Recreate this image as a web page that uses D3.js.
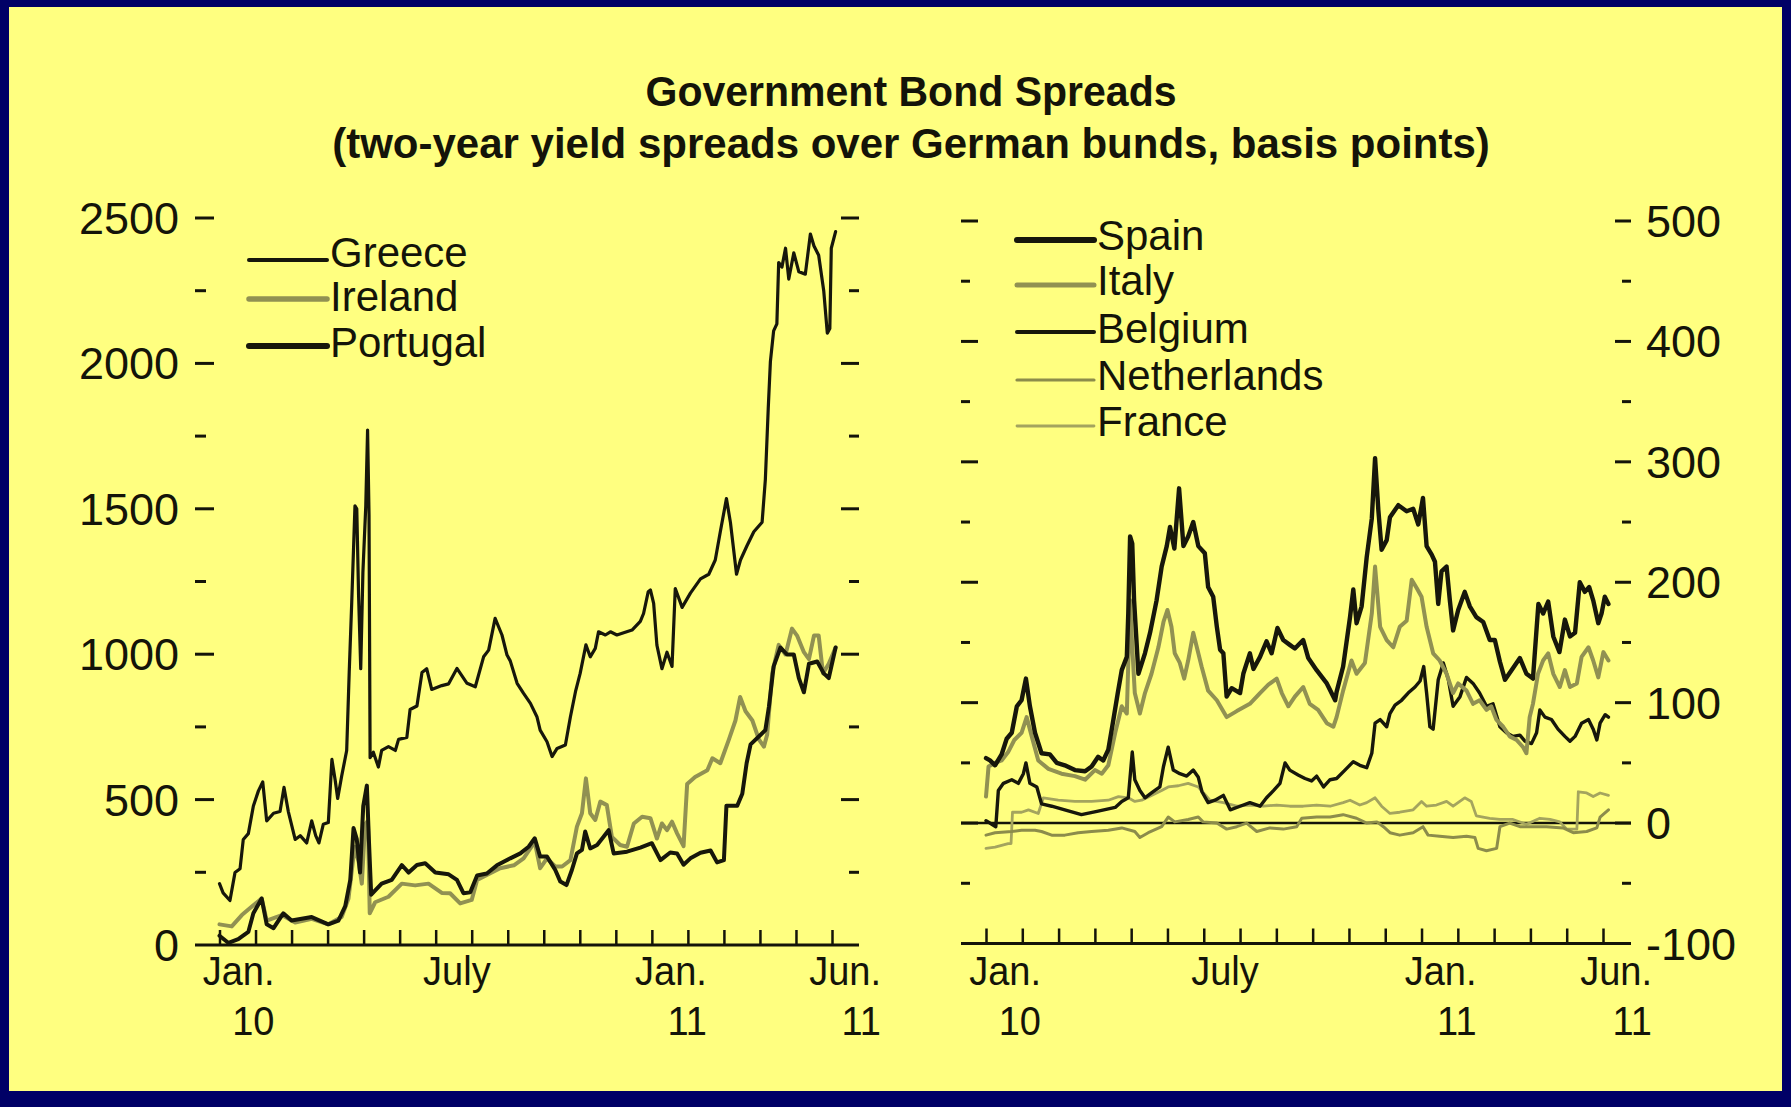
<!DOCTYPE html>
<html>
<head>
<meta charset="utf-8">
<script src="https://cdn.jsdelivr.net/npm/d3@7"></script>
<style>
html,body{margin:0;padding:0;overflow:hidden;background:#000066;}
svg{display:block;}
</style>
</head>
<body>
<svg id="chart" width="1791" height="1107"></svg>
<script>
// ---------------- DATA ----------------
// x values are months since 1 Jan 2010 (0 = Jan. 10, 17 = Jun. 11)
const titleText = "Government Bond Spreads";
const subtitleText = "(two-year yield spreads over German bunds, basis points)";

const monthTickValues = [0,1,2,3,4,5,6,7,8,9,10,11,12,13,14,15,16,17];
const monthLabels = [
  {m:0,  top:"Jan.", bottom:"10"},
  {m:6,  top:"July", bottom:""},
  {m:12, top:"Jan.", bottom:"11"},
  {m:17, top:"Jun.", bottom:"11"}
];
const leftTickValues  = [250,500,750,1000,1250,1500,1750,2000,2250,2500];
const leftTickLabels  = [0,500,1000,1500,2000,2500];
const rightTickValues = [-50,0,50,100,150,200,250,300,350,400,450,500];
const rightTickLabels = [-100,0,100,200,300,400,500];

const leftNames  = ["Greece","Ireland","Portugal"];
const rightNames = ["Spain","Italy","Belgium","Netherlands","France"];

const greece = [[0,211],[0.1,179],[0.29,153],[0.43,249],[0.57,262],[0.66,363],[0.8,383],[0.94,478],[1.08,530],[1.2,561],[1.31,427],[1.5,453],[1.68,459],[1.79,542],[1.91,459],[2.1,363],[2.24,376],[2.42,351],[2.56,427],[2.67,376],[2.76,351],[2.88,415],[3.02,421],[3.12,638],[3.21,567],[3.28,504],[3.39,580],[3.53,669],[3.6,937],[3.67,1178],[3.76,1510],[3.81,1500],[3.86,1204],[3.92,950],[3.98,1281],[4.06,1510],[4.11,1771],[4.15,1480],[4.18,644],[4.27,663],[4.41,612],[4.5,669],[4.69,682],[4.88,669],[4.97,707],[5.2,714],[5.29,810],[5.48,822],[5.62,937],[5.75,950],[5.89,879],[6.17,892],[6.36,898],[6.59,951],[6.87,900],[7.1,888],[7.33,991],[7.47,1014],[7.65,1123],[7.84,1066],[7.98,997],[8.07,977],[8.26,900],[8.44,865],[8.63,831],[8.81,785],[8.9,739],[9.09,699],[9.23,648],[9.37,676],[9.6,688],[9.74,785],[9.88,871],[10.01,934],[10.17,1032],[10.29,991],[10.43,1020],[10.52,1077],[10.71,1066],[10.85,1077],[11.03,1066],[11.45,1083],[11.68,1113],[11.77,1140],[11.9,1215],[11.96,1221],[12.05,1175],[12.14,1031],[12.28,950],[12.42,1007],[12.56,958],[12.65,1226],[12.84,1161],[13.07,1210],[13.35,1259],[13.58,1275],[13.76,1324],[13.9,1421],[14.07,1535],[14.18,1454],[14.35,1275],[14.46,1324],[14.64,1373],[14.83,1421],[15.06,1454],[15.15,1600],[15.23,1844],[15.29,2006],[15.38,2112],[15.47,2136],[15.52,2347],[15.61,2331],[15.71,2396],[15.8,2290],[15.94,2380],[16.08,2315],[16.26,2307],[16.4,2445],[16.5,2404],[16.63,2372],[16.77,2250],[16.87,2104],[16.94,2120],[16.98,2396],[17.1,2453]];

const ireland = [[0,71],[0.34,64],[0.62,103],[0.8,122],[1.17,160],[1.31,84],[1.73,103],[2.1,77],[2.56,90],[3.02,71],[3.39,96],[3.58,160],[3.75,338],[3.86,287],[3.95,211],[4.04,415],[4.12,427],[4.17,109],[4.32,147],[4.69,166],[5.06,211],[5.43,205],[5.8,211],[6.17,179],[6.4,178],[6.68,143],[7.0,155],[7.15,224],[7.42,241],[7.79,264],[8.17,274],[8.44,298],[8.75,355],[8.9,264],[9.09,298],[9.32,270],[9.51,270],[9.74,292],[9.92,407],[10.06,453],[10.17,573],[10.29,453],[10.43,430],[10.57,493],[10.75,481],[10.89,372],[11.12,344],[11.31,338],[11.5,418],[11.73,441],[11.96,436],[12.14,366],[12.28,418],[12.42,395],[12.56,424],[12.7,384],[12.88,340],[12.98,554],[13.2,578],[13.54,601],[13.68,642],[13.9,625],[14.14,707],[14.32,772],[14.45,853],[14.6,804],[14.79,772],[14.97,707],[15.11,682],[15.2,723],[15.34,934],[15.52,1032],[15.71,999],[15.89,1088],[16.03,1064],[16.22,1007],[16.36,983],[16.5,1064],[16.63,1064],[16.75,934],[16.91,967],[17.1,1023]];

const portugal = [[0,32],[0.25,7],[0.52,20],[0.8,45],[0.94,109],[1.17,160],[1.31,71],[1.5,58],[1.77,109],[2.0,84],[2.56,96],[3.02,71],[3.3,84],[3.49,134],[3.63,224],[3.72,402],[3.81,364],[3.9,249],[3.99,478],[4.09,548],[4.15,351],[4.21,173],[4.5,211],[4.78,224],[5.06,275],[5.25,249],[5.48,275],[5.71,281],[5.99,249],[6.36,243],[6.59,224],[6.77,178],[6.96,181],[7.15,239],[7.42,246],[7.7,274],[8.07,298],[8.35,315],[8.58,338],[8.75,367],[8.9,304],[9.09,304],[9.32,258],[9.46,218],[9.63,206],[9.78,258],[9.92,315],[10.06,327],[10.15,390],[10.29,332],[10.48,344],[10.66,372],[10.8,395],[10.94,315],[11.31,321],[11.68,335],[12.0,350],[12.24,292],[12.51,318],[12.7,315],[12.88,276],[13.07,298],[13.35,317],[13.63,325],[13.81,284],[14.0,292],[14.07,479],[14.37,479],[14.51,520],[14.63,625],[14.74,690],[15.02,723],[15.15,739],[15.25,820],[15.38,958],[15.57,1023],[15.75,999],[15.94,999],[16.08,918],[16.22,869],[16.36,967],[16.59,975],[16.77,934],[16.91,918],[17.1,1023]];

const spain = [[0,54],[0.11,52],[0.25,48],[0.43,57],[0.57,70],[0.71,75],[0.85,97],[0.98,102],[1.1,120],[1.21,97],[1.35,75],[1.53,58],[1.76,57],[1.95,50],[2.17,48],[2.45,44],[2.73,43],[2.91,47],[3.09,55],[3.23,52],[3.37,61],[3.51,86],[3.63,108],[3.74,127],[3.88,138],[3.92,174],[3.97,238],[4.03,232],[4.08,185],[4.2,124],[4.38,141],[4.52,158],[4.7,185],[4.84,213],[4.98,230],[5.07,246],[5.19,228],[5.32,278],[5.44,230],[5.57,238],[5.71,250],[5.85,230],[6.03,224],[6.12,196],[6.26,188],[6.36,163],[6.45,144],[6.54,141],[6.63,105],[6.77,112],[7.0,108],[7.09,124],[7.27,141],[7.37,128],[7.55,138],[7.73,151],[7.87,141],[8.03,162],[8.19,152],[8.37,148],[8.51,145],[8.74,152],[8.88,137],[9.11,127],[9.39,116],[9.62,102],[9.66,109],[9.84,130],[10.03,171],[10.12,194],[10.21,166],[10.35,180],[10.49,221],[10.63,253],[10.72,303],[10.81,260],[10.9,227],[11.04,235],[11.13,254],[11.36,264],[11.59,259],[11.77,261],[11.91,248],[12.04,270],[12.14,230],[12.28,223],[12.37,217],[12.46,182],[12.55,209],[12.69,213],[12.78,185],[12.87,160],[13.01,177],[13.19,192],[13.33,180],[13.51,171],[13.7,167],[13.88,152],[14.02,152],[14.16,134],[14.3,119],[14.48,127],[14.71,137],[14.89,124],[15.07,120],[15.22,182],[15.35,174],[15.49,184],[15.63,155],[15.8,142],[15.95,169],[16.09,155],[16.23,158],[16.36,200],[16.5,192],[16.62,196],[16.73,185],[16.87,166],[16.96,174],[17.05,188],[17.15,182]];

const italy = [[0,22],[0.07,47],[0.25,50],[0.43,52],[0.61,59],[0.78,69],[0.98,75],[1.12,88],[1.26,72],[1.44,52],[1.72,45],[2.08,41],[2.45,39],[2.73,36],[3.0,44],[3.19,41],[3.37,48],[3.56,75],[3.74,97],[3.88,91],[3.97,185],[4.03,146],[4.1,108],[4.24,91],[4.38,108],[4.56,124],[4.75,146],[4.89,167],[5.0,177],[5.11,163],[5.2,141],[5.34,133],[5.46,120],[5.57,135],[5.71,158],[5.85,141],[5.94,130],[6.12,110],[6.36,102],[6.63,88],[6.91,93],[7.27,99],[7.55,108],[7.78,115],[8.01,120],[8.15,108],[8.33,97],[8.51,105],[8.74,113],[8.92,99],[9.15,94],[9.39,83],[9.57,80],[9.66,88],[9.84,110],[10.07,135],[10.21,124],[10.44,133],[10.63,174],[10.72,213],[10.86,163],[11.04,152],[11.22,146],[11.4,163],[11.59,168],[11.73,202],[11.87,195],[12.0,188],[12.14,163],[12.32,141],[12.5,135],[12.69,124],[12.87,108],[13.01,116],[13.24,110],[13.42,99],[13.6,102],[13.79,94],[13.92,97],[14.06,86],[14.25,80],[14.43,72],[14.62,69],[14.8,63],[14.89,58],[14.98,88],[15.07,99],[15.21,124],[15.35,135],[15.49,141],[15.63,124],[15.81,113],[15.95,127],[16.09,113],[16.28,116],[16.41,138],[16.6,146],[16.73,135],[16.87,121],[17.01,142],[17.15,135]];

const belgium = [[0,2],[0.16,-1],[0.27,-3],[0.34,27],[0.48,33],[0.71,36],[0.89,33],[1.03,41],[1.1,50],[1.21,33],[1.4,30],[1.53,16],[1.81,14],[2.17,11],[2.63,7],[3.09,10],[3.56,13],[3.74,18],[3.92,21],[4.03,59],[4.1,36],[4.24,27],[4.38,21],[4.56,25],[4.79,30],[4.89,47],[5.02,63],[5.16,44],[5.34,41],[5.53,39],[5.71,44],[5.85,38],[5.95,26],[6.12,17],[6.31,19],[6.54,23],[6.73,11],[7.0,14],[7.27,17],[7.55,14],[7.73,21],[7.92,27],[8.1,33],[8.24,50],[8.37,44],[8.6,40],[8.79,37],[8.97,35],[9.11,39],[9.3,30],[9.48,36],[9.66,37],[9.89,44],[10.12,51],[10.3,48],[10.49,46],[10.63,58],[10.72,83],[10.86,86],[11.04,80],[11.13,91],[11.27,98],[11.45,102],[11.63,108],[11.82,113],[11.96,118],[12.06,130],[12.14,108],[12.23,80],[12.32,78],[12.46,119],[12.6,133],[12.74,119],[12.87,97],[13.06,105],[13.24,121],[13.42,116],[13.6,108],[13.79,97],[13.97,99],[14.16,80],[14.34,75],[14.52,72],[14.71,73],[14.85,68],[15.03,66],[15.17,75],[15.26,94],[15.4,88],[15.58,86],[15.76,78],[15.95,72],[16.09,68],[16.23,72],[16.41,83],[16.6,86],[16.73,78],[16.83,69],[16.92,83],[17.06,90],[17.15,88]];

const netherlands = [[0,-10],[0.25,-8],[0.71,-7],[0.98,-6],[1.35,-6],[1.53,-7],[1.81,-10],[2.17,-10],[2.54,-8],[2.91,-7],[3.37,-6],[3.74,-4],[4.1,-7],[4.24,-12],[4.47,-8],[4.84,-3],[5.02,5],[5.2,1],[5.57,3],[5.85,5],[5.98,1],[6.36,0],[6.63,-5],[6.91,-3],[7.18,0],[7.46,-7],[7.82,-4],[8.19,-5],[8.56,-3],[8.7,4],[9.11,5],[9.48,5],[9.84,7],[10.21,4],[10.49,0],[10.77,1],[10.95,-3],[11.13,-8],[11.4,-10],[11.77,-8],[12.04,-3],[12.18,-10],[12.5,-11],[12.87,-12],[13.24,-11],[13.47,-12],[13.56,-21],[13.79,-23],[14.07,-21],[14.16,-3],[14.43,0],[14.71,-3],[15.07,-3],[15.44,-3],[15.9,-4],[16.18,-8],[16.55,-7],[16.83,-4],[16.92,5],[17.15,11]];

const france = [[0,-21],[0.25,-20],[0.61,-17],[0.69,-17],[0.73,9],[0.98,9],[1.17,11],[1.44,8],[1.58,21],[1.99,19],[2.45,18],[2.91,18],[3.37,19],[3.65,22],[3.92,21],[4.1,18],[4.29,19],[4.56,23],[4.84,27],[5.02,30],[5.3,31],[5.57,33],[5.85,30],[6.17,19],[6.54,17],[6.91,14],[7.27,15],[7.64,14],[8.01,15],[8.37,14],[8.74,14],[9.11,15],[9.48,14],[9.84,17],[10.03,19],[10.3,15],[10.49,17],[10.72,21],[10.9,14],[11.13,8],[11.4,9],[11.77,11],[12.0,18],[12.14,14],[12.41,15],[12.69,18],[12.87,14],[13.19,21],[13.37,18],[13.51,6],[13.88,4],[14.16,3],[14.52,3],[14.89,-1],[15.26,4],[15.54,3],[15.81,1],[16.0,-5],[16.18,-5],[16.28,-5],[16.32,26],[16.55,25],[16.73,22],[16.92,25],[17.15,23]];

// ---------------- STYLE / LAYOUT ----------------
const FONT = "'Liberation Sans', Arial, Helvetica, sans-serif";
const INK = "#141409";
const BLACK = "#17170b";
const OLIVE = "#919152";
const OLIVE2 = "#8c8c4b";
const OLIVE3 = "#a4a45e";

const leftStyle = {
  Greece:   {data: greece,   color: BLACK, w: 3.2, lw: 4},
  Ireland:  {data: ireland,  color: OLIVE, w: 4.0, lw: 5.5},
  Portugal: {data: portugal, color: BLACK, w: 4.0, lw: 6}
};
const rightStyle = {
  Spain:       {data: spain,       color: BLACK,  w: 4.4, lw: 6},
  Italy:       {data: italy,       color: OLIVE,  w: 4.0, lw: 5},
  Belgium:     {data: belgium,     color: BLACK,  w: 3.4, lw: 4},
  Netherlands: {data: netherlands, color: OLIVE2, w: 3.0, lw: 3.2},
  France:      {data: france,      color: OLIVE3, w: 2.8, lw: 2.8}
};

const svg = d3.select("#chart");
svg.append("rect").attr("x",0).attr("y",0).attr("width",1791).attr("height",1107).attr("fill","#000066");
svg.append("rect").attr("x",9).attr("y",7).attr("width",1773).attr("height",1084).attr("fill","#ffff80");

// Titles
svg.append("text").attr("transform","translate(911,106) scale(0.977,1)")
  .attr("text-anchor","middle").attr("font-family",FONT).attr("font-weight","bold")
  .attr("font-size",42).attr("fill",INK).text(titleText);
svg.append("text").attr("transform","translate(911,158)")
  .attr("text-anchor","middle").attr("font-family",FONT).attr("font-weight","bold")
  .attr("font-size",42).attr("fill",INK).text(subtitleText);

// Scales
const xL = d3.scaleLinear().domain([0,17]).range([219.5,832]);
const yL = d3.scaleLinear().domain([0,2500]).range([945,218]);
const xR = d3.scaleLinear().domain([0,17]).range([986,1603]);
const yR = d3.scaleLinear().domain([-100,500]).range([943.5,221]);

function drawPanel(cfg){
  const g = svg.append("g");
  const {x,y,axisY,x0,x1,majorEvery,tickVals,names,style} = cfg;
  // y tick dashes on both sides
  tickVals.forEach(v=>{
    const major = (v % majorEvery === 0);
    g.append("line").attr("x1",x0).attr("x2",x0 + (major?cfg.majLenL:cfg.minLenL))
      .attr("y1",y(v)).attr("y2",y(v)).attr("stroke",INK).attr("stroke-width",3);
    g.append("line").attr("x1",x1 - (major?cfg.majLenR:cfg.minLenR)).attr("x2",x1)
      .attr("y1",y(v)).attr("y2",y(v)).attr("stroke",INK).attr("stroke-width",3);
  });
  // month ticks
  const xAxis = d3.axisTop(x).tickValues(monthTickValues).tickSize(15).tickFormat("");
  const ax = g.append("g").attr("transform",`translate(0,${axisY})`).call(xAxis);
  ax.select(".domain").remove();
  ax.selectAll(".tick line").attr("stroke",INK).attr("stroke-width",2.5);
  // axis line
  g.append("line").attr("x1",x0).attr("x2",x1).attr("y1",axisY).attr("y2",axisY)
    .attr("stroke",INK).attr("stroke-width",3);
  // month labels
  monthLabels.forEach(l=>{
    const xe = x(l.m) + (l.m===17 ? 49 : 55);
    g.append("text").attr("transform",`translate(${xe},985) scale(0.95,1)`)
      .attr("text-anchor","end").attr("font-family",FONT).attr("font-size",40)
      .attr("fill",INK).text(l.top);
    if(l.bottom) g.append("text").attr("transform",`translate(${xe},1035) scale(0.95,1)`)
      .attr("text-anchor","end").attr("font-family",FONT).attr("font-size",40)
      .attr("fill",INK).text(l.bottom);
  });
  if(cfg.zeroLine){
    g.append("line").attr("x1",x0).attr("x2",x1).attr("y1",y(0)).attr("y2",y(0))
      .attr("stroke",INK).attr("stroke-width",2.5);
  }
  // series
  const line = d3.line().x(d=>x(d[0])).y(d=>y(d[1]));
  cfg.drawOrder.forEach(n=>{
    const s = style[n];
    g.append("path").datum(s.data).attr("d",line).attr("fill","none")
      .attr("stroke",s.color).attr("stroke-width",s.w)
      .attr("stroke-linejoin","round").attr("stroke-linecap","round");
  });
  // legend
  names.forEach((n,i)=>{
    const s = style[n];
    g.append("line").attr("x1",cfg.legX0).attr("x2",cfg.legX1)
      .attr("y1",cfg.legLineY[i]).attr("y2",cfg.legLineY[i])
      .attr("stroke",s.color).attr("stroke-width",s.lw).attr("stroke-linecap","round");
    g.append("text").attr("x",cfg.legTextX).attr("y",cfg.legBase[i])
      .attr("font-family",FONT).attr("font-size",42).attr("fill",INK).text(n);
  });
  return g;
}

const gL = drawPanel({
  x:xL, y:yL, axisY:yL(0), x0:195, x1:859, majorEvery:500,
  majLenL:19, minLenL:11, majLenR:18, minLenR:10,
  tickVals:leftTickValues, names:leftNames, style:leftStyle,
  drawOrder:["Ireland","Portugal","Greece"],
  legX0:249, legX1:327, legTextX:330,
  legLineY:[260,299,346], legBase:[267,311,357]
});
leftTickLabels.forEach(v=>{
  gL.append("text").attr("x",179).attr("y",yL(v)+16).attr("text-anchor","end")
    .attr("font-family",FONT).attr("font-size",45).attr("fill",INK).text(v);
});

const gR = drawPanel({
  x:xR, y:yR, axisY:yR(-100), x0:961, x1:1631, majorEvery:100,
  majLenL:17, minLenL:9, majLenR:16, minLenR:9,
  tickVals:rightTickValues, names:rightNames, style:rightStyle, zeroLine:true,
  drawOrder:["France","Netherlands","Belgium","Italy","Spain"],
  legX0:1017, legX1:1094, legTextX:1097,
  legLineY:[240,285,332,380,426], legBase:[250,295,343,390,436]
});
rightTickLabels.forEach(v=>{
  gR.append("text").attr("x",1646).attr("y",yR(v)+16).attr("text-anchor","start")
    .attr("font-family",FONT).attr("font-size",45).attr("fill",INK).text(v);
});
</script>
</body>
</html>
